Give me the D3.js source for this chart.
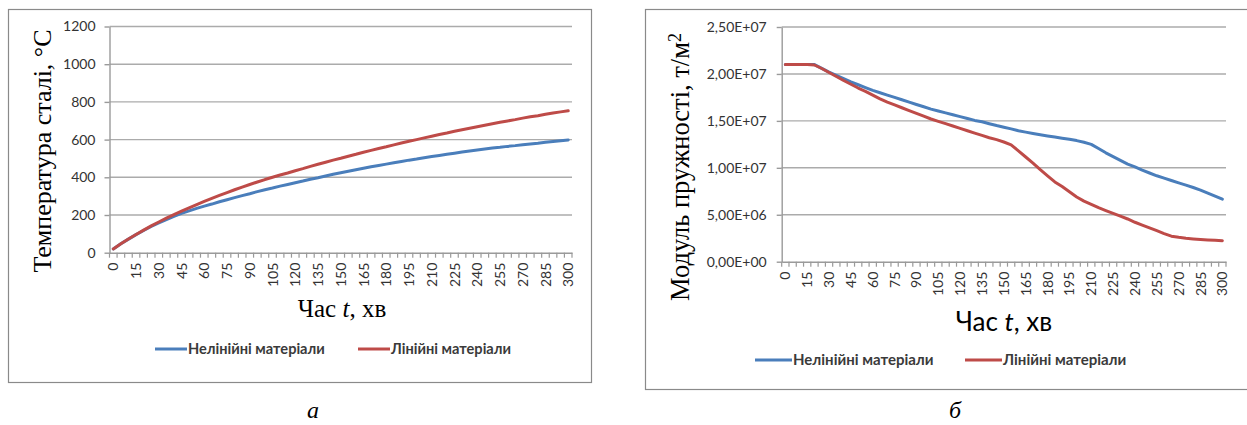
<!DOCTYPE html>
<html>
<head>
<meta charset="utf-8">
<script src="https://cdn.jsdelivr.net/npm/d3@7"></script>
<style>
  body { margin: 0; background: #fff; }
  svg { display: block; }
</style>
</head>
<body>
<svg id="fig" width="1247" height="425"></svg>
<script>
// Time categories, min (one category every 5 minutes)
const minutes = [0,5,10,15,20,25,30,35,40,45,50,55,60,65,70,75,80,85,90,95,100,
  105,110,115,120,125,130,135,140,145,150,155,160,165,170,175,180,185,190,195,200,
  205,210,215,220,225,230,235,240,245,250,255,260,265,270,275,280,285,290,295,300];
// Categories that carry a label on the time axis
const labelMinutes = [0,15,30,45,60,75,90,105,120,135,150,165,180,195,210,225,240,255,270,285,300];

// Steel temperature, °C
const tempNonlinear = [20,47,72,96,118,139,158,176,193,209,222,235,247,258,270,281,292,303,313,324,334,
  343,353,362,371,380,390,398,407,416,424,432,440,448,456,463,470,477,484,491,497,
  504,510,516,522,528,534,540,545,550,555,559,564,568,573,577,581,586,590,594,598];
const tempLinear = [20,47,73,97,120,142,163,183,202,220,238,255,272,288,304,319,334,348,362,375,388,
  400,412,423,435,446,458,469,480,491,501,512,522,533,543,553,562,572,582,591,600,
  609,618,627,635,644,652,660,668,676,684,692,699,706,714,721,727,734,741,747,753];

// Modulus of elasticity, t/m²
const modulusNonlinear = [2.1e7,2.1e7,2.1e7,2.1e7,2.1e7,2.06e7,2.02e7,1.985e7,1.95e7,1.915e7,1.885e7,
  1.855e7,1.825e7,1.8e7,1.775e7,1.75e7,1.725e7,1.7e7,1.675e7,1.65e7,1.625e7,
  1.605e7,1.585e7,1.565e7,1.545e7,1.525e7,1.505e7,1.49e7,1.47e7,1.45e7,1.433e7,
  1.415e7,1.395e7,1.38e7,1.366e7,1.353e7,1.34e7,1.328e7,1.316e7,1.305e7,1.29e7,
  1.272e7,1.25e7,1.205e7,1.16e7,1.12e7,1.08e7,1.04e7,1.01e7,0.975e7,0.945e7,
  0.915e7,0.89e7,0.865e7,0.84e7,0.815e7,0.79e7,0.763e7,0.731e7,0.699e7,0.667e7];
const modulusLinear = [2.1e7,2.1e7,2.1e7,2.1e7,2.095e7,2.058e7,2.015e7,1.973e7,1.93e7,1.89e7,1.85e7,
  1.815e7,1.775e7,1.735e7,1.7e7,1.67e7,1.64e7,1.61e7,1.58e7,1.55e7,1.52e7,
  1.495e7,1.47e7,1.445e7,1.42e7,1.395e7,1.37e7,1.345e7,1.32e7,1.3e7,1.275e7,
  1.245e7,1.18e7,1.115e7,1.05e7,0.98e7,0.915e7,0.85e7,0.8e7,0.745e7,0.69e7,
  0.645e7,0.61e7,0.575e7,0.545e7,0.515e7,0.485e7,0.455e7,0.42e7,0.39e7,0.36e7,
  0.33e7,0.3e7,0.272e7,0.26e7,0.25e7,0.243e7,0.237e7,0.232e7,0.228e7,0.223e7];

const tempTicks = [0,200,400,600,800,1000,1200];
const modulusTicks = [0,5e6,1e7,1.5e7,2e7,2.5e7];
const seriesNames = ["Нелінійні матеріали", "Лінійні матеріали"];
const seriesColors = ["#4a7ebb", "#be4b48"];

const SANS = "Lato, 'Open Sans', sans-serif";
const SERIF = "'Liberation Serif', 'Times New Roman', serif";
const GRID = "#ababab";
const AXIS = "#9a9a9a";
const TEXT = "#333333";

// Excel-style scientific labels with a decimal comma: 2,50E+07
function sciComma(v) {
  if (v === 0) return "0,00E+00";
  const e = Math.floor(Math.log10(v) + 1e-12);
  const m = v / Math.pow(10, e);
  return m.toFixed(2).replace(".", ",") + "E+" + String(e).padStart(2, "0");
}

const svg = d3.select("#fig");

function drawPanel(p) {
  const g = svg.append("g");

  // chart frame
  g.append("rect")
    .attr("x", p.frame.x + 0.5).attr("y", p.frame.y + 0.5)
    .attr("width", p.frame.w).attr("height", p.frame.h)
    .attr("fill", "none").attr("stroke", "#8a8a8a").attr("stroke-width", 1.2);

  const x = d3.scaleBand().domain(minutes).range([p.x0, p.x1]);
  const y = d3.scaleLinear().domain([0, p.ticks[p.ticks.length - 1]]).range([p.yBottom, p.yTop]);

  // horizontal gridlines
  g.append("g").selectAll("line")
    .data(p.ticks.filter(t => t > 0))
    .join("line")
    .attr("x1", p.x0).attr("x2", p.x1)
    .attr("y1", d => y(d)).attr("y2", d => y(d))
    .attr("stroke", GRID).attr("stroke-width", 1.4);

  // value axis
  const ya = g.append("g")
    .attr("transform", `translate(${p.x0},0)`)
    .call(d3.axisLeft(y).tickValues(p.ticks).tickSize(5).tickSizeOuter(0)
      .tickPadding(p.yPad).tickFormat(p.fmt));
  ya.select(".domain").attr("stroke", AXIS).attr("stroke-width", 1.4);
  ya.selectAll(".tick line").attr("stroke", AXIS).attr("stroke-width", 1.4);
  ya.selectAll(".tick text")
    .attr("font-family", SANS).attr("font-size", p.tickFont).attr("fill", TEXT);

  // category axis with rotated labels
  const xa = g.append("g")
    .attr("transform", `translate(0,${p.yBottom})`)
    .call(d3.axisBottom(x).tickValues(labelMinutes).tickSize(0).tickSizeOuter(0));
  xa.select(".domain").attr("stroke", AXIS).attr("stroke-width", 1.4);
  xa.selectAll(".tick text")
    .attr("transform", "rotate(-90)")
    .attr("x", -p.xPad).attr("y", 0).attr("dy", "0.36em")
    .attr("text-anchor", "end")
    .attr("font-family", SANS).attr("font-size", p.tickFont).attr("fill", TEXT);

  // tick marks between categories
  g.append("g").selectAll("line")
    .data(d3.range(minutes.length + 1))
    .join("line")
    .attr("x1", i => p.x0 + i * x.step()).attr("x2", i => p.x0 + i * x.step())
    .attr("y1", p.yBottom).attr("y2", p.yBottom + 5)
    .attr("stroke", AXIS).attr("stroke-width", 1.2);

  // series
  const line = d3.line()
    .x((d, i) => x(minutes[i]) + x.bandwidth() / 2)
    .y(d => y(d));
  p.series.forEach((s, k) => {
    g.append("path")
      .datum(s)
      .attr("d", line)
      .attr("fill", "none")
      .attr("stroke", seriesColors[k])
      .attr("stroke-width", 3)
      .attr("stroke-linejoin", "round")
      .attr("stroke-linecap", "round");
  });

  // axis titles
  const xt = g.append("text")
    .attr("x", p.xTitle[0]).attr("y", p.xTitle[1])
    .attr("text-anchor", "middle")
    .attr("font-family", p.xTitleFont).attr("font-size", p.xTitleSize).attr("fill", "#000");
  xt.append("tspan").text("Час ");
  xt.append("tspan").attr("font-style", "italic").text("t");
  xt.append("tspan").text(", хв");

  const yt = g.append("text")
    .attr("transform", `translate(${p.yTitle[0]},${p.yTitle[1]}) rotate(-90)`)
    .attr("text-anchor", "middle")
    .attr("font-family", SERIF).attr("font-size", p.yTitleSize).attr("fill", "#000");
  yt.append("tspan").text(p.yTitleText);
  if (p.yTitleSup) {
    yt.append("tspan").attr("dy", "-0.42em").attr("font-size", "0.68em").text(p.yTitleSup);
  }

  // legend
  seriesNames.forEach((name, k) => {
    const lx = p.legend[k];
    g.append("line")
      .attr("x1", lx).attr("x2", lx + p.legendLine)
      .attr("y1", p.legendY).attr("y2", p.legendY)
      .attr("stroke", seriesColors[k]).attr("stroke-width", 3);
    g.append("text")
      .attr("x", lx + p.legendLine + 1).attr("y", p.legendY)
      .attr("dy", "0.35em")
      .attr("font-family", SANS).attr("font-size", p.legendSize)
      .attr("font-weight", "bold").attr("fill", "#3a3a3a")
      .text(name);
  });
}

drawPanel({
  frame: { x: 8, y: 9, w: 583, h: 373 },
  x0: 109.5, x1: 572, yTop: 26.5, yBottom: 252.7,
  ticks: tempTicks, fmt: d => String(d), yPad: 9, xPad: 10, tickFont: "14px",
  series: [tempNonlinear, tempLinear],
  xTitle: [342, 317], xTitleFont: SERIF, xTitleSize: "25px",
  yTitle: [51, 151], yTitleSize: "26px", yTitleText: "Температура сталі, °С",
  legend: [155, 358], legendLine: 32, legendY: 349, legendSize: "14.6px"
});

drawPanel({
  frame: { x: 645, y: 9, w: 620, h: 380 },
  x0: 781.7, x1: 1226, yTop: 27, yBottom: 261.7,
  ticks: modulusTicks, fmt: sciComma, yPad: 10, xPad: 10, tickFont: "14px",
  series: [modulusNonlinear, modulusLinear],
  xTitle: [1004, 331], xTitleFont: SANS, xTitleSize: "26px",
  yTitle: [689, 167], yTitleSize: "26.5px", yTitleText: "Модуль пружності, т/м", yTitleSup: "2",
  legend: [755, 965], legendLine: 37, legendY: 360, legendSize: "15px"
});

// sub-figure captions
[["а", 313], ["б", 955]].forEach(([t, cx]) => {
  svg.append("text")
    .attr("x", cx).attr("y", 418)
    .attr("text-anchor", "middle")
    .attr("font-family", SERIF).attr("font-style", "italic")
    .attr("font-size", "24px").attr("fill", "#000")
    .text(t);
});
</script>
</body>
</html>
